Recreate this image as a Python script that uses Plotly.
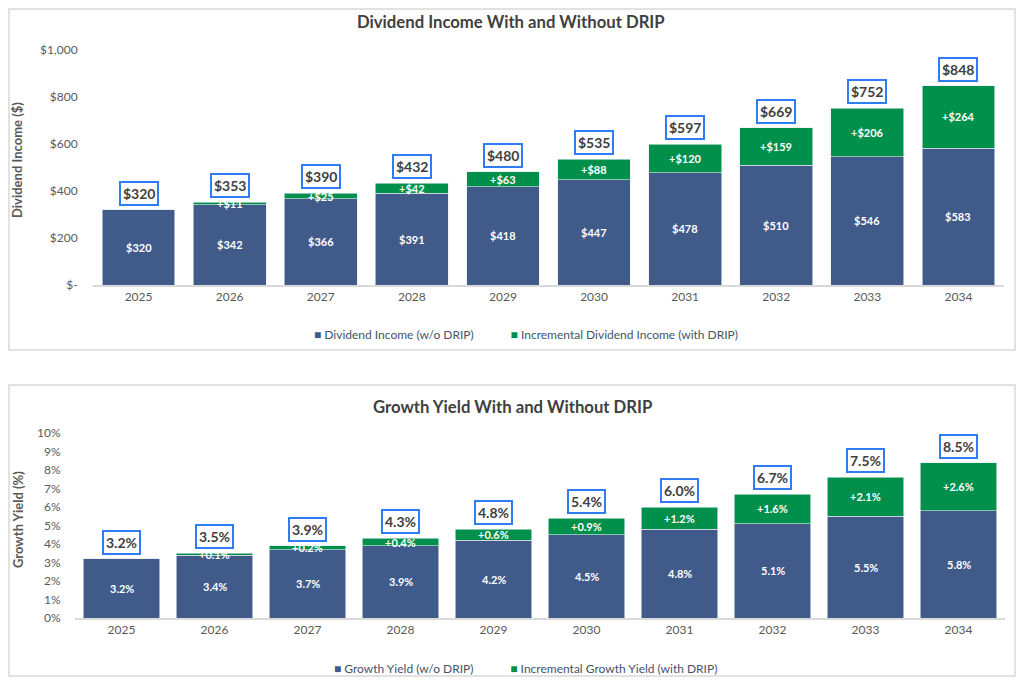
import plotly.graph_objects as go

# chart data
years = ['2025', '2026', '2027', '2028', '2029', '2030', '2031', '2032', '2033', '2034']

income_base = [320, 342, 366, 391, 418, 447, 478, 510, 546, 583]
income_incr = [0, 11, 25, 42, 63, 88, 120, 159, 206, 264]
income_total = [320, 353, 390, 432, 480, 535, 597, 669, 752, 848]

yield_base = [3.2, 3.4, 3.7, 3.9, 4.2, 4.5, 4.8, 5.1, 5.5, 5.8]
yield_incr = [0.0, 0.1, 0.2, 0.4, 0.6, 0.9, 1.2, 1.6, 2.1, 2.6]
yield_total = [3.2, 3.5, 3.9, 4.3, 4.8, 5.4, 6.0, 6.7, 7.5, 8.5]

income_ticks = [0, 200, 400, 600, 800, 1000]
income_ticktext = ['$-', '$200', '$400', '$600', '$800', '$1,000']

BLUE = '#405A8A'
GREEN = '#00904B'
BOX = '#2E7CF6'
FONT = 'Lato'
# page body has an 8px margin, so the figure is a bit smaller than the window
OFF = 8
W, H = 1024 - 2 * OFF, 685 - 2 * OFF


def px_x(p):
    return min(max((p - OFF) / W, 0), 1)


def px_y(p):
    return min(max(1 - (p - OFF) / H, 0), 1)


fig = go.Figure()

# top chart: dividend income
fig.add_trace(go.Bar(x=years, y=income_base, name='Dividend Income (w/o DRIP)',
                     marker=dict(color=BLUE, line=dict(color='#E8ECF2', width=0.6)),
                     width=0.8, xaxis='x', yaxis='y', hoverinfo='y'))
fig.add_trace(go.Bar(x=years, y=income_incr, name='Incremental Dividend Income (with DRIP)',
                     marker=dict(color=GREEN, line=dict(color='#E8ECF2', width=0.6)),
                     width=0.8, xaxis='x', yaxis='y', hoverinfo='y'))

# bottom chart: growth yield
fig.add_trace(go.Bar(x=years, y=yield_base, name='Growth Yield (w/o DRIP)',
                     marker=dict(color=BLUE, line=dict(color='#E8ECF2', width=0.6)),
                     width=0.82, xaxis='x2', yaxis='y2', hoverinfo='y'))
fig.add_trace(go.Bar(x=years, y=yield_incr, name='Incremental Growth Yield (with DRIP)',
                     marker=dict(color=GREEN, line=dict(color='#E8ECF2', width=0.6)),
                     width=0.82, xaxis='x2', yaxis='y2', hoverinfo='y'))

annotations = []


def add_labels(xref, yref, base, incr, total, fmt_base, fmt_incr, fmt_total):
    # x given as category index (numeric-looking category names get read as indexes)
    for i in range(len(years)):
        annotations.append(dict(x=i, y=base[i] / 2, xref=xref, yref=yref, text=fmt_base(base[i]),
                                showarrow=False, font=dict(family=FONT, size=11, color='white', weight='bold')))
        if incr[i] > 0:
            annotations.append(dict(x=i, y=base[i] + incr[i] / 2, xref=xref, yref=yref,
                                    text=fmt_incr(incr[i]), showarrow=False,
                                    font=dict(family=FONT, size=11, color='white', weight='bold')))
        annotations.append(dict(x=i, y=base[i] + incr[i], xref=xref, yref=yref, text=fmt_total(total[i]),
                                showarrow=False, yanchor='bottom', yshift=4,
                                bgcolor='white', bordercolor=BOX, borderwidth=2, borderpad=2,
                                font=dict(family=FONT, size=14, color='#404040', weight='bold')))


add_labels('x', 'y', income_base, income_incr, income_total,
           lambda v: '$%d' % v, lambda v: '+$%d' % v, lambda v: '$%d' % v)
add_labels('x2', 'y2', yield_base, yield_incr, yield_total,
           lambda v: '%.1f%%' % v, lambda v: '+%.1f%%' % v, lambda v: '%.1f%%' % v)

legfont = dict(family=FONT, size=12, color='#44546A')


def legend_text(c1, n1, c2, n2):
    return ('<span style="color:%s">■</span> %s' % (c1, n1) + '&nbsp;' * 12 +
            '<span style="color:%s">■</span> %s' % (c2, n2))


def paper_note(x, y, text, font, angle=0):
    return dict(x=px_x(x), y=px_y(y), xref='paper', yref='paper', showarrow=False,
                xanchor='center', yanchor='middle', text=text, font=font, textangle=angle)


title_font = dict(family=FONT, size=16.7, color='#404040', weight='bold')
axis_title_font = dict(family=FONT, size=13, color='#595959', weight='bold')

# titles, axis titles, legends
annotations += [
    paper_note(511, 22, 'Dividend Income With and Without DRIP', title_font),
    paper_note(512, 407, 'Growth Yield With and Without DRIP', title_font),
    paper_note(17, 160, 'Dividend Income ($)', axis_title_font, -90),
    paper_note(18, 520, 'Growth Yield (%)', axis_title_font, -90),
    paper_note(526, 334, legend_text(BLUE, 'Dividend Income (w/o DRIP)',
                                     GREEN, 'Incremental Dividend Income (with DRIP)'), legfont),
    paper_note(525, 668, legend_text(BLUE, 'Growth Yield (w/o DRIP)',
                                     GREEN, 'Incremental Growth Yield (with DRIP)'), legfont),
]

# panel borders
shapes = [
    dict(type='rect', xref='paper', yref='paper', x0=px_x(9), x1=px_x(1015), y0=px_y(350), y1=px_y(9),
         line=dict(color='#D9D9D9', width=1.5)),
    dict(type='rect', xref='paper', yref='paper', x0=px_x(9), x1=px_x(1015), y0=px_y(676), y1=px_y(385),
         line=dict(color='#D9D9D9', width=1.5)),
]

tickfont = dict(family=FONT, size=12, color='#595959')

fig.update_layout(
    width=W, height=H,
    margin=dict(l=0, r=0, t=0, b=0, autoexpand=False),
    paper_bgcolor='white', plot_bgcolor='white',
    barmode='stack',
    showlegend=False,
    font=dict(family=FONT),
    annotations=annotations,
    shapes=shapes,
    xaxis=dict(domain=[px_x(93), px_x(1004)], anchor='y', type='category', range=[-0.5, 9.5],
               showline=True, linecolor='#D9D9D9', linewidth=1.5, ticks='', tickfont=tickfont,
               showgrid=False, automargin=False),
    yaxis=dict(domain=[px_y(285), px_y(50)], anchor='x', range=[0, 1000], tickvals=income_ticks,
               ticktext=income_ticktext, showgrid=False, zeroline=False, tickfont=tickfont, ticklen=12,
               ticks='outside', tickcolor='rgba(0,0,0,0)', automargin=False),
    xaxis2=dict(domain=[px_x(75), px_x(1005)], anchor='y2', type='category', range=[-0.5, 9.5],
                showline=True, linecolor='#D9D9D9', linewidth=1.5, ticks='', tickfont=tickfont,
                showgrid=False, automargin=False),
    yaxis2=dict(domain=[px_y(618), px_y(433)], anchor='x2', range=[0, 10], dtick=1, ticksuffix='%',
                showgrid=False, zeroline=False, tickfont=tickfont, ticklen=11,
                ticks='outside', tickcolor='rgba(0,0,0,0)', automargin=False),
)

fig.write_html('out.html')
